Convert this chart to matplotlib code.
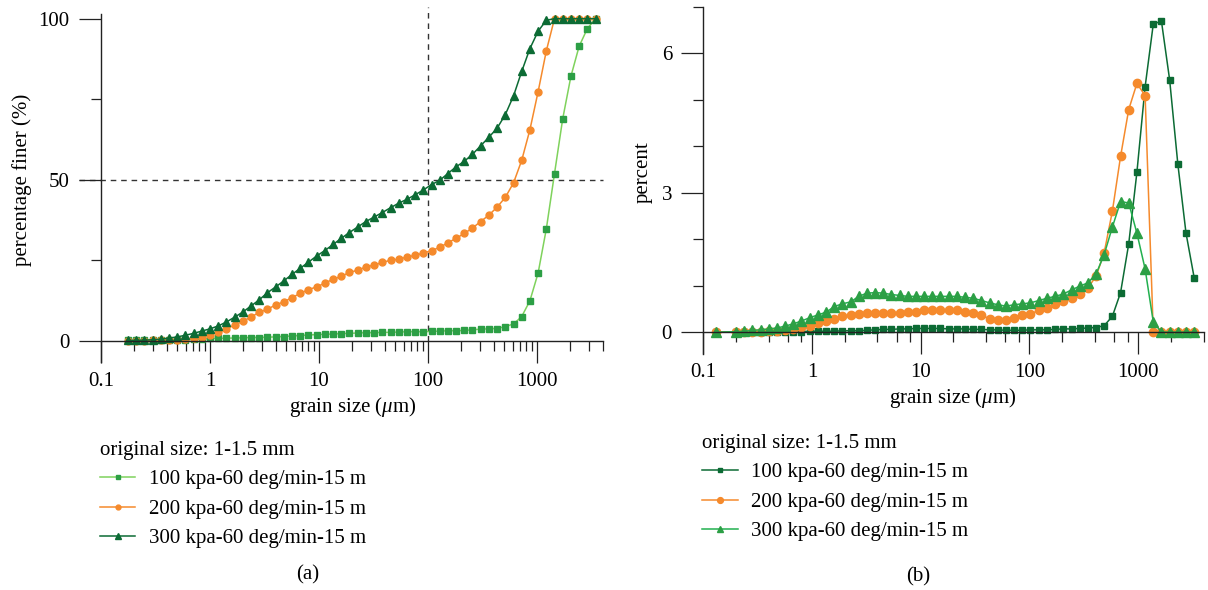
import matplotlib
matplotlib.use('Agg')
import matplotlib.pyplot as plt
from matplotlib.ticker import FixedLocator, FuncFormatter, NullFormatter

plt.rcParams['font.family'] = ['Liberation Serif', 'DejaVu Serif']
plt.rcParams['mathtext.fontset'] = 'custom'
plt.rcParams['mathtext.rm'] = 'Liberation Serif'
plt.rcParams['mathtext.it'] = 'Liberation Serif:italic'

# ---- data: (a) cumulative percentage finer ----
size_a = [0.177, 0.210, 0.250, 0.297, 0.354, 0.420, 0.500, 0.595, 0.707, 0.841,
          1.00, 1.19, 1.41, 1.68, 2.00, 2.38, 2.83, 3.36, 4.00, 4.76,
          5.66, 6.73, 8.00, 9.51, 11.3, 13.5, 16.0, 19.0, 22.6, 26.9,
          32.0, 38.1, 45.3, 53.8, 64.0, 76.1, 90.5, 108, 128, 152,
          181, 215, 256, 304, 362, 431, 512, 609, 724, 861,
          1024, 1218, 1448, 1722, 2048, 2435, 2896, 3444]
finer_100 = [0.1, 0.1, 0.1, 0.1, 0.15, 0.2, 0.25, 0.3, 0.4, 0.5,
             0.7, 0.75, 0.8, 0.85, 0.9, 1.0, 1.0, 1.1, 1.2, 1.3,
             1.5, 1.6, 1.8, 1.9, 2.0, 2.1, 2.2, 2.3, 2.4, 2.5,
             2.5, 2.6, 2.6, 2.7, 2.8, 2.8, 2.8, 2.9, 3.0, 3.1,
             3.1, 3.2, 3.4, 3.6, 3.7, 3.8, 4.4, 5.2, 7.5, 12.4,
             21.0, 34.7, 51.9, 68.9, 82.1, 91.4, 96.9, 100]
finer_200 = [0.0, 0.0, 0.05, 0.1, 0.15, 0.2, 0.3, 0.5, 0.8, 1.2,
             1.9, 2.6, 3.6, 4.9, 6.0, 7.4, 8.8, 9.8, 11.1, 12.1,
             13.4, 14.7, 15.9, 16.7, 17.9, 19.1, 20.0, 21.2, 21.9, 22.9,
             23.5, 24.3, 25.0, 25.3, 26.0, 26.5, 27.2, 28.0, 29.0, 30.4,
             31.8, 33.3, 35.0, 37.0, 39.0, 41.5, 44.5, 49.0, 56.0, 65.5,
             77.3, 90.0, 100, 100, 100, 100, 100, 100]
finer_300 = [0.1, 0.15, 0.2, 0.3, 0.5, 0.8, 1.2, 1.7, 2.3, 3.0,
             3.7, 4.6, 5.8, 7.3, 8.9, 10.8, 12.7, 14.9, 16.7, 18.6,
             20.6, 22.5, 24.4, 26.3, 28.0, 29.9, 31.8, 33.6, 35.3, 37.0,
             38.4, 39.8, 41.3, 42.7, 43.9, 45.3, 46.8, 48.5, 49.8, 51.9,
             54.0, 55.7, 57.9, 60.5, 63.2, 66.0, 70.2, 76.0, 83.6, 90.7,
             96.1, 99.5, 100, 100, 100, 100, 100, 100]

# ---- data: (b) frequency distribution ----
size_b = [0.131, 0.200, 0.238, 0.283, 0.336, 0.400, 0.476, 0.566, 0.673, 0.800, 0.951,
          1.13, 1.35, 1.60, 1.90, 2.26, 2.69, 3.20, 3.81, 4.53, 5.38,
          6.40, 7.61, 9.05, 10.8, 12.8, 15.2, 18.1, 21.5, 25.6, 30.4,
          36.2, 43.1, 51.2, 60.9, 72.4, 86.1, 102, 122, 145, 172,
          205, 244, 290, 344, 410, 487, 579, 689, 819, 974,
          1159, 1378, 1638, 1948, 2317, 2756, 3277]
pct_100 = [0, 0, 0, 0, 0, 0, 0, 0.01, 0.01, 0.01, 0.02,
           0.02, 0.02, 0.02, 0.03, 0.03, 0.03, 0.04, 0.05, 0.06, 0.06,
           0.07, 0.07, 0.08, 0.08, 0.08, 0.08, 0.07, 0.07, 0.07, 0.06,
           0.06, 0.05, 0.05, 0.04, 0.04, 0.04, 0.05, 0.05, 0.05, 0.06,
           0.07, 0.07, 0.08, 0.09, 0.1, 0.14, 0.34, 0.85, 1.9, 3.44,
           5.28, 6.63, 6.69, 5.43, 3.62, 2.13, 1.17]
pct_200 = [0, 0.0, 0.0, 0.01, 0.01, 0.02, 0.03, 0.04, 0.07, 0.11, 0.14,
           0.19, 0.24, 0.29, 0.34, 0.37, 0.39, 0.42, 0.42, 0.42, 0.42,
           0.42, 0.43, 0.43, 0.47, 0.47, 0.47, 0.47, 0.47, 0.44, 0.42,
           0.36, 0.29, 0.27, 0.27, 0.31, 0.36, 0.39, 0.47, 0.52, 0.61,
           0.66, 0.73, 0.82, 0.95, 1.2, 1.71, 2.6, 3.78, 4.79, 5.35,
           5.09, 0, 0, 0, 0, 0, 0]
pct_300 = [0, 0.01, 0.02, 0.04, 0.05, 0.07, 0.09, 0.13, 0.18, 0.24, 0.31,
           0.37, 0.43, 0.55, 0.61, 0.65, 0.77, 0.84, 0.85, 0.84, 0.81,
           0.79, 0.77, 0.77, 0.77, 0.77, 0.77, 0.77, 0.77, 0.75, 0.73,
           0.68, 0.63, 0.59, 0.56, 0.59, 0.61, 0.63, 0.68, 0.73, 0.77,
           0.82, 0.91, 0.99, 1.06, 1.25, 1.67, 2.26, 2.81, 2.78, 2.13,
           1.36, 0.22, 0, 0, 0, 0, 0]

labels = ['100 kpa-60 deg/min-15 m', '200 kpa-60 deg/min-15 m', '300 kpa-60 deg/min-15 m']
legend_title = 'original size: 1-1.5 mm'

orange = '#f58a2c'
light_green = '#7fd25c'
mid_green = '#2c9f45'
dark_green = '#0c6b34'
bright_green = '#22b04f'
fs = 15

W, H = 1208, 590
fig = plt.figure(figsize=(W / 100, H / 100), dpi=100)
ax1 = fig.add_axes([101 / W, 228 / H, 501.6 / W, 354.6 / H])
ax2 = fig.add_axes([703.3 / W, 236 / H, 500.3 / W, 347.2 / H])


def style_axis(ax, subs, ymajor, yminor):
    ax.set_xscale('log')
    ax.set_xlim(0.1, 4000)
    ax.spines['top'].set_visible(False)
    ax.spines['right'].set_visible(False)
    ax.spines['bottom'].set_position(('data', 0))
    for s in ('left', 'bottom'):
        ax.spines[s].set_linewidth(1.0)
        ax.spines[s].set_color('#222222')
    ax.xaxis.set_major_locator(FixedLocator([0.1, 1, 10, 100, 1000]))
    minors = [m * 10.0 ** e for e in range(-1, 4) for m in subs]
    ax.xaxis.set_minor_locator(FixedLocator([v for v in minors if v < 4001]))
    ax.xaxis.set_major_formatter(FuncFormatter(lambda v, p: f'{v:g}'))
    ax.xaxis.set_minor_formatter(NullFormatter())
    ax.yaxis.set_major_locator(FixedLocator(ymajor))
    ax.yaxis.set_minor_locator(FixedLocator(yminor))
    ax.tick_params(which='major', direction='out', length=16, width=0.9,
                   color='#222222', labelsize=fs, pad=6.5)
    ax.tick_params(which='minor', direction='out', length=7.5, width=0.9,
                   color='#222222')
    ax.tick_params(axis='y', which='minor', length=7)


# (a)
style_axis(ax1, [2, 3, 4, 5, 6, 7, 8, 9], [0, 50, 100], [25, 75])
ax1.set_ylim(-6.6, 103.5)
ax1.spines['left'].set_bounds(-6.6, 101.3)
ax1.plot([100, 100], [0, 103.5], ls=(0, (4, 3.5)), color='#333333', lw=1.0, zorder=1)
ax1.plot([-0.044, 1], [50, 50], ls=(0, (4, 3.5)), color='#333333', lw=1.0,
         transform=ax1.get_yaxis_transform(), clip_on=False, zorder=1)
la1, = ax1.plot(size_a, finer_100, '-s', color=light_green, mfc=mid_green, mec=mid_green,
                ms=4.3, lw=1.1, label=labels[0])
la2, = ax1.plot(size_a, finer_200, '-o', color=orange, ms=5, lw=1.1, label=labels[1])
la3, = ax1.plot(size_a, finer_300, '-^', color=dark_green, ms=5.3, lw=1.1, label=labels[2])

# (b)
style_axis(ax2, [2, 4, 6, 8], [0, 3, 6], [1, 2, 4, 5, 7])
ax2.set_ylim(-0.47, 7.0)
lb1, = ax2.plot(size_b, pct_100, '-s', color=dark_green, ms=5, lw=1.1, label=labels[0])
lb2, = ax2.plot(size_b, pct_200, '-o', color=orange, ms=6, lw=1.1, label=labels[1])
lb3, = ax2.plot(size_b, pct_300, '-^', color=bright_green, mfc=mid_green, mec=mid_green,
                ms=6.5, lw=1.1, label=labels[2])

for ax in (ax1, ax2):
    for ln in ax.lines:
        ln.set_clip_on(False)

# axis labels
fig.text(353 / W, 1 - 407 / H, r'grain size ($\mu$m)', ha='center', va='center', fontsize=fs)
fig.text(953 / W, 1 - 398 / H, r'grain size ($\mu$m)', ha='center', va='center', fontsize=fs)
fig.text(22 / W, 1 - 180 / H, 'percentage finer (%)', ha='center', va='center',
         rotation=90, fontsize=fs)
fig.text(643 / W, 1 - 172 / H, 'percent', ha='center', va='center', rotation=90, fontsize=fs)

# legends
leg1 = ax1.legend(handles=[la1, la2, la3], title=legend_title, loc='upper left',
                  bbox_to_anchor=(100 / W, 1 - 441 / H), bbox_transform=fig.transFigure,
                  frameon=False, borderpad=0, borderaxespad=0, fontsize=fs,
                  title_fontsize=fs, alignment='left', handlelength=1.68,
                  handletextpad=0.67, labelspacing=0.475, markerscale=0.7)
leg2 = ax2.legend(handles=[lb1, lb2, lb3], title=legend_title, loc='upper left',
                  bbox_to_anchor=(702 / W, 1 - 434 / H), bbox_transform=fig.transFigure,
                  frameon=False, borderpad=0, borderaxespad=0, fontsize=fs,
                  title_fontsize=fs, alignment='left', handlelength=1.73,
                  handletextpad=0.62, labelspacing=0.475, markerscale=0.7)

fig.text(308 / W, 1 - 575 / H, '(a)', ha='center', va='center', fontsize=fs)
fig.text(918 / W, 1 - 577 / H, '(b)', ha='center', va='center', fontsize=fs)

fig.savefig('out.png', dpi=100, facecolor='white')
